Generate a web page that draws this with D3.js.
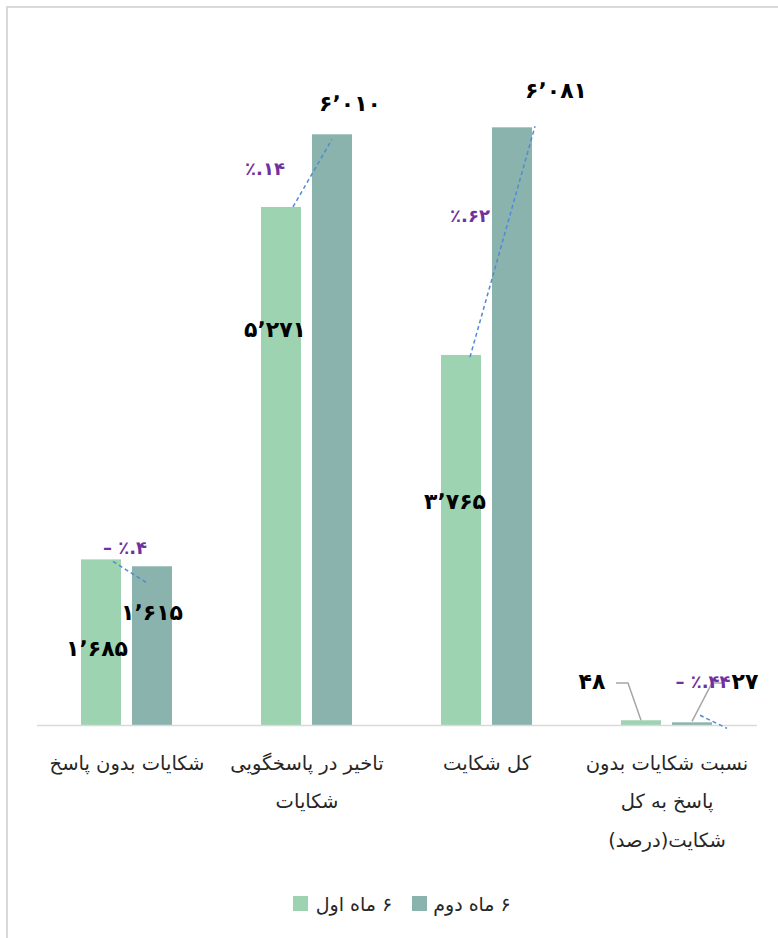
<!DOCTYPE html>
<html lang="fa">
<head>
<meta charset="utf-8">
<script src="https://cdn.jsdelivr.net/npm/d3@7"></script>
<style>
  html, body { margin: 0; padding: 0; background: #ffffff; }
  svg { display: block; }
</style>
</head>
<body>
<div id="chart"></div>
<script>
// Complaint statistics: first six months vs second six months
const categories = [
  "شکایات بدون پاسخ",
  "تاخیر در پاسخگویی\nشکایات",
  "کل شکایت",
  "نسبت شکایات بدون\nپاسخ به کل\nشکایت(درصد)"
];
const seriesNames = ["۶ ماه اول", "۶ ماه دوم"];
const firstHalf  = [1685, 5271, 3765, 48];
const secondHalf = [1615, 6010, 6081, 27];

const W = 778, H = 938;
const colors = ["#9dd3b0", "#8ab3ad"];
const faFont = "'DejaVu Sans', 'Noto Sans', sans-serif";

const toFa = s => String(s).replace(/[0-9]/g, d => "۰۱۲۳۴۵۶۷۸۹"[d]).replace(/,/g, "٬");
const fmt = v => toFa(d3.format(",")(v));

const svg = d3.select("#chart").append("svg")
  .attr("width", W).attr("height", H);

// outer frame
svg.append("rect")
  .attr("x", 7).attr("y", 7).attr("width", W + 10).attr("height", H + 10)
  .attr("fill", "#ffffff").attr("stroke", "#d9d9d9").attr("stroke-width", 2);

const x = d3.scaleBand().domain(categories).range([37, 757]).padding(0);
const xs = d3.scaleBand().domain(seriesNames).range([44, 135]).paddingInner(11 / 51).paddingOuter(0);
const y = d3.scaleLinear().domain([0, 7000]).range([725, 37]);

const rows = categories.map((c, i) => ({ cat: c, i, values: [firstHalf[i], secondHalf[i]] }));

// bars
const groups = svg.append("g").selectAll("g").data(rows).join("g")
  .attr("transform", d => `translate(${x(d.cat)},0)`);

groups.selectAll("rect").data(d => d.values.map((v, k) => ({ v, k }))).join("rect")
  .attr("x", d => xs(seriesNames[d.k]))
  .attr("y", d => y(d.v))
  .attr("width", xs.bandwidth())
  .attr("height", d => y(0) - y(d.v))
  .attr("fill", d => colors[d.k]);

// category axis baseline
svg.append("line")
  .attr("x1", 37).attr("x2", 757).attr("y1", y(0) + 0.5).attr("y2", y(0) + 0.5)
  .attr("stroke", "#d9d9d9").attr("stroke-width", 1.5);

// dashed change lines, from first-half bar top to second-half bar top
const changeLineNudge = [
  [12, 2, -6, 16], [12, 0, 0, 5], [9, 2, 23, -1], [59, -5, 35, 6]
];
svg.append("g").selectAll("line").data(rows).join("line")
  .attr("x1", d => x(d.cat) + xs(seriesNames[0]) + xs.bandwidth() / 2 + changeLineNudge[d.i][0])
  .attr("y1", d => y(d.values[0]) + changeLineNudge[d.i][1])
  .attr("x2", d => x(d.cat) + xs(seriesNames[1]) + xs.bandwidth() / 2 + changeLineNudge[d.i][2])
  .attr("y2", d => y(d.values[1]) + changeLineNudge[d.i][3])
  .attr("stroke", "#4f8ad9").attr("stroke-width", 1.5)
  .attr("stroke-dasharray", "4,3");

// leader lines for the small ratio bars
const leaderRow = rows[3];
const lb1 = x(leaderRow.cat) + xs(seriesNames[0]) + xs.bandwidth() / 2;
const lb2 = x(leaderRow.cat) + xs(seriesNames[1]) + xs.bandwidth() / 2;
const leaderPaths = [
  [[616, 683], [628, 683], [lb1, y(leaderRow.values[0])]],
  [[724, 683], [712, 683], [lb2, y(leaderRow.values[1]) - 1]]
];
svg.append("g").selectAll("path").data(leaderPaths).join("path")
  .attr("d", d => d3.line()(d))
  .attr("fill", "none").attr("stroke", "#a6a6a6").attr("stroke-width", 1.5);

// value labels (offsets relative to bar centre / bar top)
const valueLabelOffset = [
  [[-4, 89], [0, 46]],
  [[-6, 123], [18, -31]],
  [[-6, 147], [44, -37]],
  [[-49, -39], [53, -41]]
];
rows.forEach(r => {
  r.values.forEach((v, k) => {
    const cx = x(r.cat) + xs(seriesNames[k]) + xs.bandwidth() / 2 + valueLabelOffset[r.i][k][0];
    const cy = y(v) + valueLabelOffset[r.i][k][1];
    svg.append("text")
      .attr("x", cx).attr("y", cy)
      .attr("text-anchor", "middle").attr("dominant-baseline", "central")
      .attr("direction", "ltr").attr("unicode-bidi", "bidi-override")
      .attr("font-family", faFont).attr("font-weight", "bold").attr("font-size", 22)
      .attr("fill", "#000000")
      .text(fmt(v));
  });
});

// percentage change labels
const changeLabelOffset = [[-2, 547], [-42, 168], [-17, 215], [36, 681]];
rows.forEach(r => {
  const pct = Math.round((r.values[1] - r.values[0]) / r.values[0] * 100);
  const txt = (pct < 0 ? "– " : "") + "٪." + toFa(Math.abs(pct));
  svg.append("text")
    .attr("x", x(r.cat) + x.bandwidth() / 2 + changeLabelOffset[r.i][0])
    .attr("y", changeLabelOffset[r.i][1])
    .attr("text-anchor", "middle").attr("dominant-baseline", "central")
    .attr("direction", "ltr").attr("unicode-bidi", "bidi-override")
    .attr("font-family", faFont).attr("font-weight", "bold").attr("font-size", 18)
    .attr("fill", "#7030a0")
    .text(txt);
});

// category labels
const catLabels = svg.append("g").selectAll("text").data(categories).join("text")
  .attr("text-anchor", "middle")
  .attr("direction", "rtl")
  .attr("font-family", faFont).attr("font-size", 19.5)
  .attr("fill", "#262626");
catLabels.each(function (c) {
  const t = d3.select(this);
  c.split("\n").forEach((line, li) => {
    t.append("tspan")
      .attr("x", x(c) + x.bandwidth() / 2)
      .attr("y", 763 + li * 38.5)
      .attr("dominant-baseline", "central")
      .text(line);
  });
});

// legend
const legendItems = [
  { name: seriesNames[0], color: colors[0], sx: 293, tx: 354 },
  { name: seriesNames[1], color: colors[1], sx: 412, tx: 472 }
];
const lg = svg.append("g").selectAll("g").data(legendItems).join("g");
lg.append("rect")
  .attr("x", d => d.sx).attr("y", 896).attr("width", 15).attr("height", 15)
  .attr("fill", d => d.color);
lg.append("text")
  .attr("x", d => d.tx).attr("y", 904)
  .attr("text-anchor", "middle").attr("dominant-baseline", "central")
  .attr("font-family", faFont).attr("font-size", 19)
  .attr("fill", "#262626")
  .attr("direction", "rtl")
  .text(d => d.name);
</script>
</body>
</html>
